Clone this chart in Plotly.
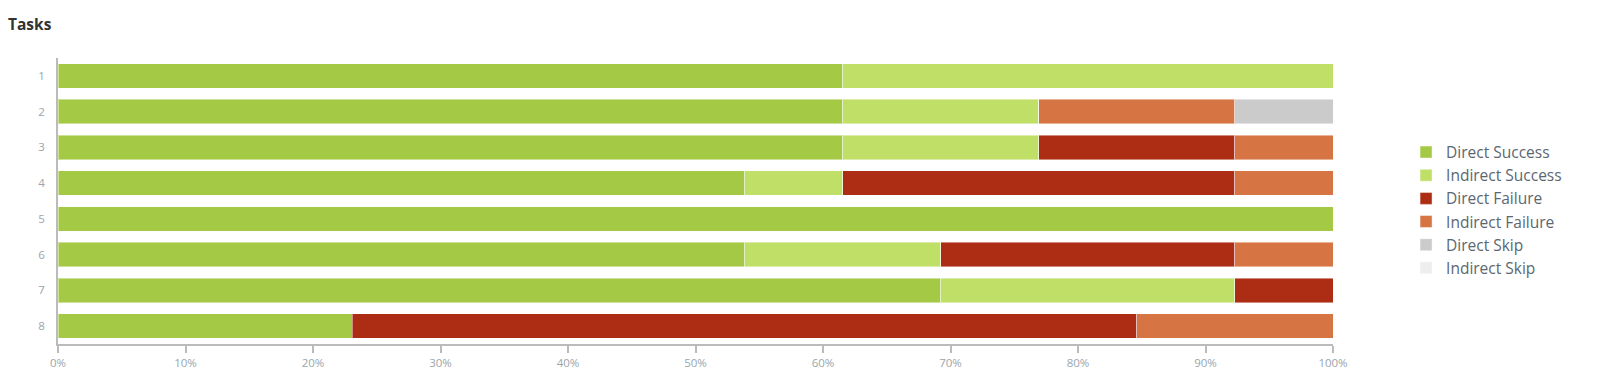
import plotly.graph_objects as go

tasks = ["1", "2", "3", "4", "5", "6", "7", "8"]
total = 13
direct_success = [8, 8, 8, 7, 13, 7, 9, 3]
indirect_success = [5, 2, 2, 1, 0, 2, 3, 0]
direct_failure = [0, 0, 2, 4, 0, 3, 1, 8]
indirect_failure = [0, 2, 1, 1, 0, 1, 0, 2]
direct_skip = [0, 1, 0, 0, 0, 0, 0, 0]
indirect_skip = [0, 0, 0, 0, 0, 0, 0, 0]

series = [
    ("Direct Success", direct_success, "#a4c945"),
    ("Indirect Success", indirect_success, "#c0df67"),
    ("Direct Failure", direct_failure, "#ad2d14"),
    ("Indirect Failure", indirect_failure, "#d67543"),
    ("Direct Skip", direct_skip, "#cbcbcb"),
    ("Indirect Skip", indirect_skip, "#eeeeee"),
]

FONT = "Open Sans"

fig = go.Figure()
for name, vals, color in series:
    pct = [v / total * 100 for v in vals]
    fig.add_trace(go.Bar(
        y=tasks, x=pct, name=name, orientation="h",
        marker=dict(color=color, line=dict(color="rgba(255,255,255,0.45)", width=1)),
    ))

fig.update_layout(
    barmode="stack",
    bargap=0.32,
    width=1600, height=384,
    margin=dict(l=58, r=267, t=58, b=40),
    paper_bgcolor="white", plot_bgcolor="white",
    font=dict(family=FONT, color="#5b6770"),
    title=dict(text="<b>Tasks</b>", x=8/1600, xref="container", xanchor="left",
               y=1 - 25/384, yanchor="middle", yref="container",
               font=dict(family=FONT, size=15.5, color="#333333")),
    legend=dict(x=1.0573, xanchor="left", y=0.4685, yanchor="middle",
                font=dict(family=FONT, size=15.5, color="#5b6770"),
                traceorder="normal", bgcolor="rgba(0,0,0,0)"),
    showlegend=True,
)

fig.update_xaxes(
    range=[0, 100], dtick=10, ticksuffix="%", showgrid=False, zeroline=False,
    showline=True, linecolor="#bbbbbb", linewidth=1.5,
    ticks="outside", ticklen=7, tickcolor="#bbbbbb", tickwidth=1.5,
    tickfont=dict(family=FONT, size=11.5, color="#9aa5ad"),
)
fig.update_yaxes(
    type="category", categoryorder="array", categoryarray=tasks, autorange="reversed",
    showgrid=False, zeroline=False, showline=True, linecolor="#bbbbbb", linewidth=1.5,
    ticks="", ticklabelstandoff=9,
    tickfont=dict(family=FONT, size=11.5, color="#9aa5ad"),
)

for yv in (0, 1):
    fig.add_shape(type="line", xref="x", yref="paper", xsizemode="pixel", xanchor=0,
                  x0=-6, x1=0, y0=yv, y1=yv, line=dict(color="#bbbbbb", width=1.5))

fig.write_html("out.html", config={"displayModeBar": False},
               post_script="document.body.style.margin='0';")
